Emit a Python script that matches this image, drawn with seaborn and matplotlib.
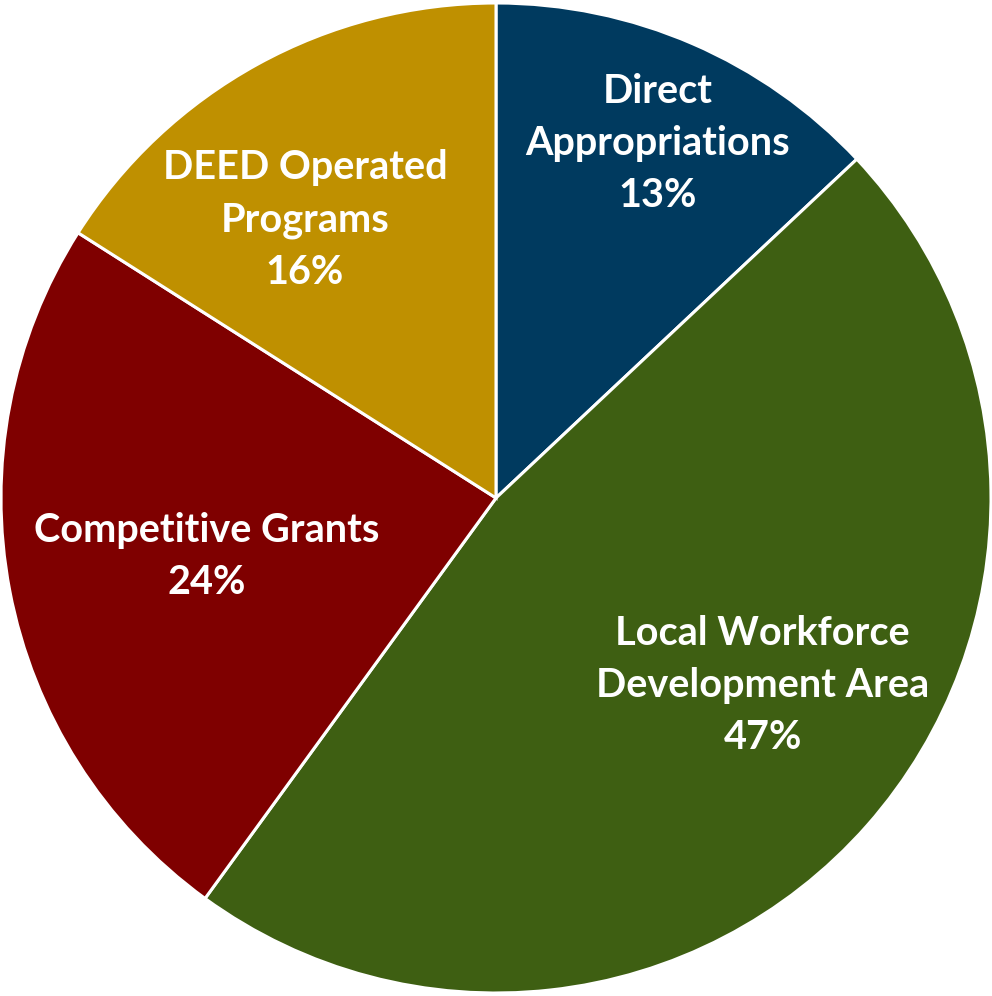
import matplotlib
matplotlib.use("Agg")
import matplotlib.pyplot as plt
import seaborn as sns

# Share of workforce funding by channel
categories = ["Direct\nAppropriations", "Local Workforce\nDevelopment Area",
              "Competitive Grants", "DEED Operated\nPrograms"]
shares = [13, 47, 24, 16]
colors = ["#003A5F", "#3E5F12", "#7F0000", "#BF9000"]

# label anchor positions (in pie-radius units)
label_xy = [(0.327, 0.717), (0.539, -0.378), (-0.584, -0.119), (-0.386, 0.562)]

sns.set_theme(style="white")
plt.rcParams["font.family"] = ["Lato", "DejaVu Sans"]

fig = plt.figure(figsize=(9.92, 9.96), dpi=100)
ax = fig.add_axes([0, 0, 1, 1])
R = 495.0
ax.pie(shares, colors=colors, startangle=90, counterclock=False, radius=1.0,
       wedgeprops=dict(edgecolor="white", linewidth=2.2))
ax.set_xlim(-496 / R, 496 / R)
ax.set_ylim(-498 / R, 498 / R)
ax.set_aspect("equal")
ax.axis("off")

for name, val, (x, y) in zip(categories, shares, label_xy):
    ax.text(x, y, f"{name}\n{val}%", ha="center", va="center",
            multialignment="center", color="white", fontsize=28.5,
            fontweight="bold", linespacing=1.5)

fig.savefig("out.png", dpi=100, facecolor="white")
